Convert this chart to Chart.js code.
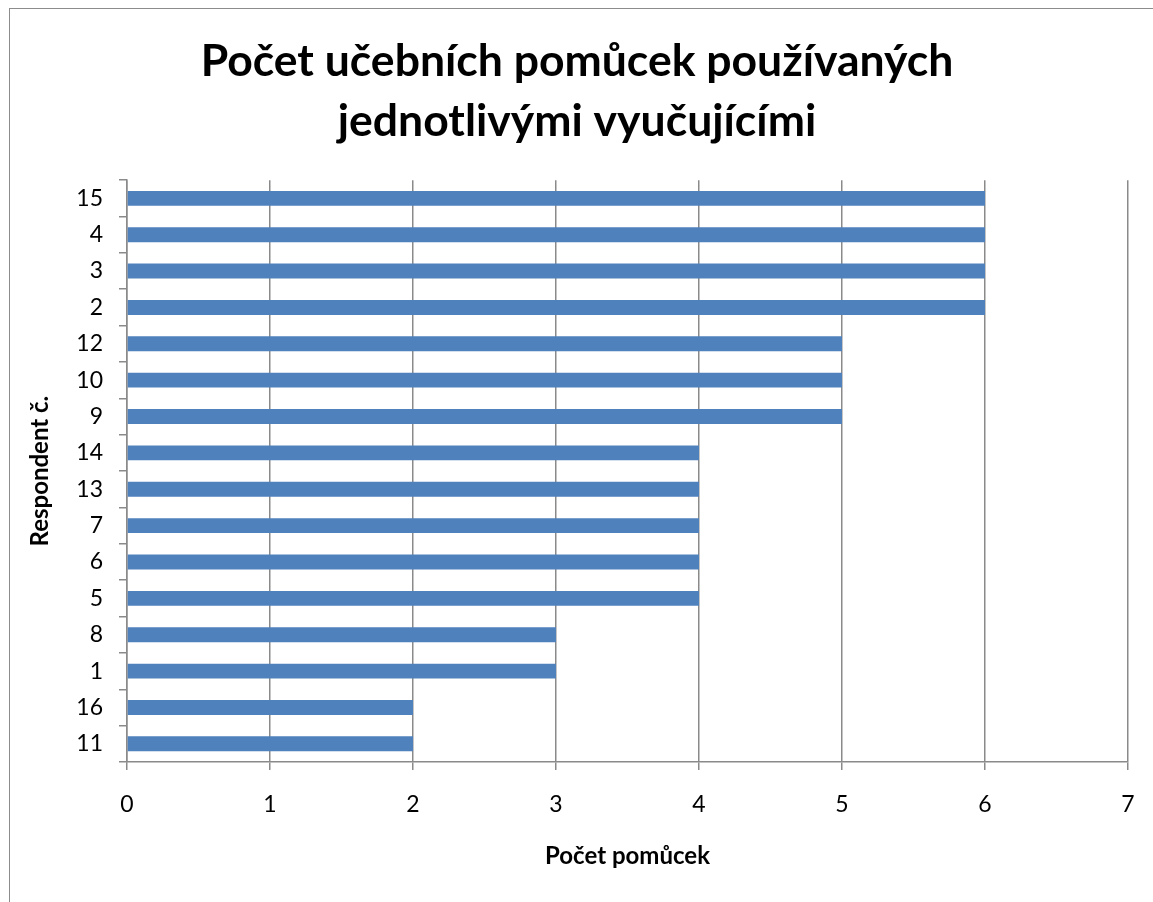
<!DOCTYPE html>
<html>
<head>
<meta charset="utf-8">
<script src="https://cdn.jsdelivr.net/npm/chart.js@4/dist/chart.umd.min.js"></script>
<style>
  html, body { margin: 0; padding: 0; background: #fff; overflow: hidden; }
  #frame { position: absolute; left: 9px; top: 8px; width: 1300px; height: 1000px; border: 1px solid #8c8c8c; }
  #chart { position: absolute; left: 0; top: 0; }
</style>
</head>
<body>
<div id="frame"></div>
<canvas id="chart" width="1153" height="902"></canvas>
<script>
// respondents, top to bottom as in the picture
let respondents = ["15", "4", "3", "2", "12", "10", "9", "14", "13", "7", "6", "5", "8", "1", "16", "11"];
let pomucky = [6, 6, 6, 6, 5, 5, 5, 4, 4, 4, 4, 4, 3, 3, 2, 2];
let xMax = 7;

let titleLines = ["Počet učebních pomůcek používaných", "jednotlivými vyučujícími"];
let xTitle = "Počet pomůcek";
let yTitle = "Respondent č.";

let fam = "Lato, 'Open Sans', sans-serif";
let axisGray = "#8a8a8a";

let ctx = document.getElementById("chart").getContext("2d");
let myChart = new Chart(ctx,
{
    type: "bar",
    data:
    {
        labels: respondents,
        datasets: [
            {
                label: "Počet pomůcek",
                data: pomucky,
                backgroundColor: "#4F81BD",
                borderWidth: 0,
                categoryPercentage: 1,
                barPercentage: 0.41
            }
        ]
    },
    options:
    {
        indexAxis: "y",
        responsive: false,
        animation: false,
        layout: { padding: { left: 26, right: 25, top: 0, bottom: 31 } },
        plugins:
        {
            legend: { display: false },
            tooltip: { enabled: false },
            title:
            {
                display: true,
                text: titleLines,
                color: "#000",
                font: { family: fam, size: 44.5, weight: "bold", lineHeight: 1.35 },
                padding: { top: 32, bottom: 28 }
            }
        },
        scales:
        {
            x:
            {
                min: 0,
                max: xMax,
                ticks: { stepSize: 1, color: "#000", font: { family: fam, size: 23 }, padding: 21 },
                grid: { color: axisGray, lineWidth: 1.5, tickLength: 8 },
                border: { color: axisGray, width: 1.5 },
                title: { display: true, text: xTitle, color: "#000", font: { family: fam, size: 24, weight: "bold" }, padding: 0 },
                afterFit: function(scale) {
                    scale.height = 109;
                    scale.paddingRight = 2;
                    scale.paddingLeft = 2;
                }
            },
            y:
            {
                ticks: { autoSkip: false, color: "#000", font: { family: fam, size: 23 }, padding: 16 },
                grid: { color: axisGray, lineWidth: 1.5, drawOnChartArea: false, tickLength: 8, offset: true },
                border: { color: axisGray, width: 1.5 },
                title: { display: true, text: yTitle, color: "#000", font: { family: fam, size: 24, weight: "bold" }, padding: 0 },
                afterFit: function(scale) { scale.width = 101; }
            }
        }
    }
});
</script>
</body>
</html>
